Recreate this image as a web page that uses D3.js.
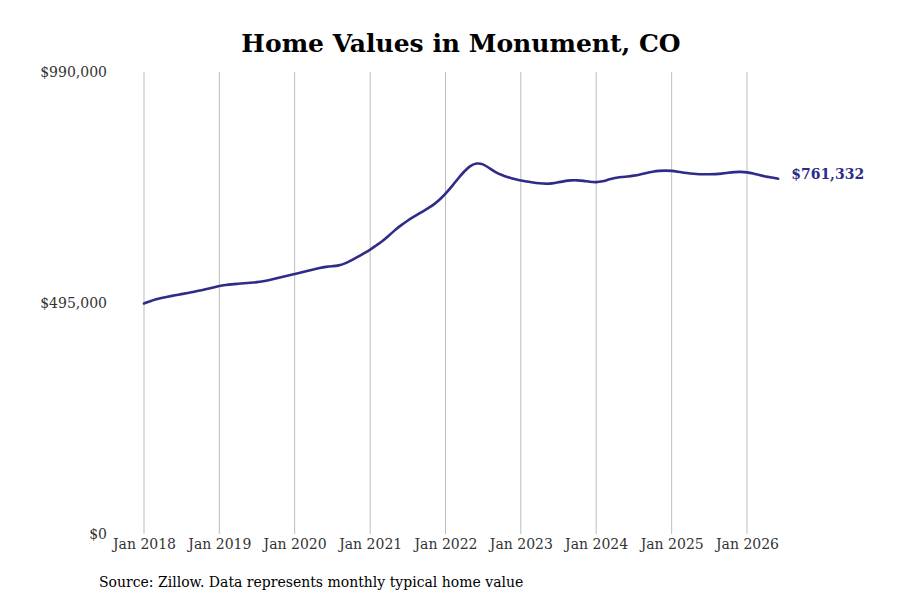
<!DOCTYPE html>
<html>
<head>
<meta charset="utf-8">
<script src="https://cdn.jsdelivr.net/npm/d3@7"></script>
<style>
  body { margin: 0; background: #fff; }
  svg text { font-family: "DejaVu Serif", serif; }
</style>
</head>
<body>
<svg id="chart" width="900" height="600"></svg>
<script>
// monthly typical home value, Jan 2018 onward
const startMonth = "2018-01";
const homeValues = [
  494000, 499000, 503000, 506500, 509000, 511500, 514000, 516500, 519000, 522000, 525000, 528000,
  531500, 533500, 535000, 536100, 537200, 538300, 539600, 541500, 544300, 547500, 550700, 553900,
  557100, 560400, 563600, 566800, 570000, 572600, 573900, 575100, 579600, 586100, 593600, 601100,
  609000, 619000, 627500, 639000, 651500, 662000, 671500, 680000, 688000, 696000, 704500, 715000,
  729000, 745000, 760700, 776800, 789600, 795000, 793300, 784300, 775100, 769300, 764400, 760300,
  757500, 755400, 753200, 751500, 750400, 751100, 753600, 756400, 757900, 758100, 756900, 754700,
  753600, 755400, 759600, 762900, 765000, 766100, 767800, 770400, 773600, 776400, 778500, 778900,
  778500, 776100, 774000, 772500, 771400, 771000, 770800, 771000, 772100, 774000, 775700, 776100,
  775300, 772500, 769300, 766100, 763900, 761332
];
const yearTicks = ["Jan 2018", "Jan 2019", "Jan 2020", "Jan 2021", "Jan 2022", "Jan 2023", "Jan 2024", "Jan 2025", "Jan 2026"];
const yTicks = [0, 495000, 990000];

const parseMonth = d3.timeParse("%Y-%m");
const t0 = parseMonth(startMonth);
const data = homeValues.map((v, i) => ({ date: d3.timeMonth.offset(t0, i), value: v }));

const svg = d3.select("#chart");
const lineColor = "#2f2b88";

const x = d3.scaleTime()
  .domain([parseMonth("2018-01"), parseMonth("2026-01")])
  .range([144, 747]);

const y = d3.scaleLinear()
  .domain([0, 990000])
  .range([534, 72]);

// title
svg.append("text")
  .attr("x", 461)
  .attr("y", 52)
  .attr("text-anchor", "middle")
  .style("font-size", "25px")
  .style("font-weight", "bold")
  .attr("fill", "#000")
  .text("Home Values in Monument, CO");

// vertical grid at each January
const tickDates = yearTicks.map(d => d3.timeParse("Jan %Y")(d));
svg.append("g")
  .selectAll("line")
  .data(tickDates)
  .enter()
  .append("line")
  .attr("x1", d => x(d))
  .attr("x2", d => x(d))
  .attr("y1", y(990000))
  .attr("y2", y(0))
  .attr("stroke", "#bdbdbd")
  .attr("stroke-width", 1);

// x axis labels
const xAxis = svg.append("g")
  .attr("transform", `translate(0,${y(0)})`)
  .call(d3.axisBottom(x).tickValues(tickDates).tickFormat((d, i) => yearTicks[i]).tickSize(0).tickPadding(5));
xAxis.select(".domain").remove();
xAxis.selectAll("text")
  .style("font-family", "DejaVu Serif, serif")
  .style("font-size", "14px")
  .attr("fill", "#333");

// y axis labels
const yAxis = svg.append("g")
  .attr("transform", "translate(107,0)")
  .call(d3.axisLeft(y).tickValues(yTicks).tickFormat(d => "$" + d3.format(",")(d)).tickSize(0).tickPadding(0));
yAxis.select(".domain").remove();
yAxis.selectAll("text")
  .style("font-family", "DejaVu Serif, serif")
  .style("font-size", "14px")
  .attr("fill", "#333");

// the line
const line = d3.line()
  .x(d => x(d.date))
  .y(d => y(d.value))
  .curve(d3.curveBasis);

svg.append("path")
  .datum(data)
  .attr("d", line)
  .attr("fill", "none")
  .attr("stroke", lineColor)
  .attr("stroke-width", 2.6)
  .attr("stroke-linejoin", "round")
  .attr("stroke-linecap", "round");

// end label
const last = data[data.length - 1];
svg.append("text")
  .attr("x", x(last.date) + 13)
  .attr("y", y(last.value) - 5)
  .attr("dy", "0.35em")
  .style("font-size", "14px")
  .style("font-weight", "bold")
  .attr("fill", lineColor)
  .text("$" + d3.format(",")(last.value));

// source note
svg.append("text")
  .attr("x", 99)
  .attr("y", 587)
  .style("font-size", "14px")
  .attr("fill", "#000")
  .text("Source: Zillow. Data represents monthly typical home value");
</script>
</body>
</html>
